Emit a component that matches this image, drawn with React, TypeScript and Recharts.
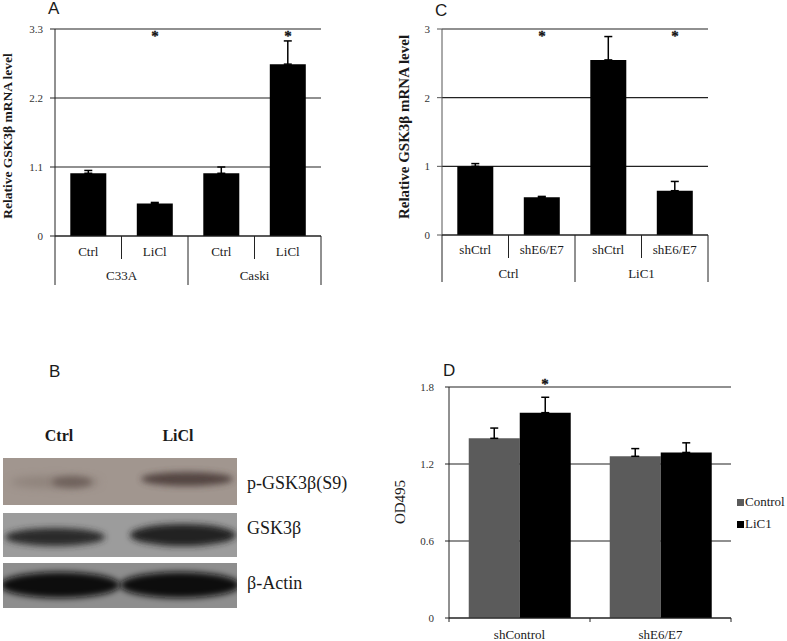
import React from 'react'
import { BarChart, Bar, XAxis, YAxis, CartesianGrid, ErrorBar, LabelList, Legend } from 'recharts'

const SERIF = '"Liberation Serif", "Times New Roman", serif'
const SANS = '"Liberation Sans", Arial, sans-serif'
const INK = '#1a1a1a'
const LINE = '#222'

// panel A – GSK3β mRNA in C33A / Caski
const aLabels = ['Ctrl', 'LiCl', 'Ctrl', 'LiCl']
const aGroups = ['C33A', 'Caski']
const aValues = [1.0, 0.52, 1.0, 2.74]
const aErrors = [0.045, 0.015, 0.1, 0.37]
const aSig = ['', '*', '', '*']
const aTicks = [0, 1.1, 2.2, 3.3]

// panel C – GSK3β mRNA, shCtrl / shE6/E7
const cLabels = ['shCtrl', 'shE6/E7', 'shCtrl', 'shE6/E7']
const cGroups = ['Ctrl', 'LiC1']
const cValues = [1.0, 0.55, 2.55, 0.645]
const cErrors = [0.04, 0.012, 0.34, 0.135]
const cSig = ['', '*', '', '*']
const cTicks = [0, 1, 2, 3]

// panel D – OD495
const dCategories = ['shControl', 'shE6/E7']
const dControl = [1.4, 1.26]
const dControlErr = [0.08, 0.06]
const dLiCl = [1.6, 1.29]
const dLiClErr = [0.12, 0.075]
const dSig = ['*', '']
const dTicks = [0, 0.6, 1.2, 1.8]

const aData = aLabels.map((label, i) => ({ id: `a${i}`, label, value: aValues[i], err: [0, aErrors[i]], sig: aSig[i] }))
const cData = cLabels.map((label, i) => ({ id: `c${i}`, label, value: cValues[i], err: [0, cErrors[i]], sig: cSig[i] }))
const dData = dCategories.map((name, i) => ({
  name,
  control: dControl[i],
  controlErr: [0, dControlErr[i]],
  licl: dLiCl[i],
  liclErr: [0, dLiClErr[i]],
  sig: dSig[i],
}))

function YTitle({ tx, ty, text, size, bold }: any) {
  return (
    <text
      x={tx}
      y={ty}
      transform={`rotate(-90 ${tx} ${ty})`}
      textAnchor="middle"
      fontFamily={SERIF}
      fontSize={size}
      fontWeight={bold ? 'bold' : 'normal'}
      fill={INK}
    >
      {text}
    </text>
  )
}

// two-row category axis with the table-like separators
function TwoLevelTick(props: any) {
  const { x, y, payload, labels, groups, rowY, groupY, shortDrop, longDrop, width, visibleTicksCount } = props
  const i = payload.index
  const half = payload.offset || width / visibleTicksCount / 2
  const endOfGroup = (i + 1) % 2 === 0
  return (
    <g>
      {i === 0 && <line x1={x - half} y1={y} x2={x - half} y2={y + longDrop} stroke={LINE} />}
      <line x1={x + half} y1={y} x2={x + half} y2={y + (endOfGroup ? longDrop : shortDrop)} stroke={LINE} />
      <text x={x} y={y + rowY} textAnchor="middle" fontFamily={SERIF} fontSize={13} fill={INK}>
        {labels[i]}
      </text>
      {i % 2 === 0 && (
        <text x={x + half} y={y + groupY} textAnchor="middle" fontFamily={SERIF} fontSize={13} fill={INK}>
          {groups[i / 2]}
        </text>
      )}
    </g>
  )
}

function SimpleTick(props: any) {
  const { x, y, payload, width, visibleTicksCount } = props
  const half = payload.offset || width / visibleTicksCount / 2
  return (
    <g>
      {payload.index === 0 && <line x1={x - half} y1={y} x2={x - half} y2={y + 4} stroke={LINE} />}
      <line x1={x + half} y1={y} x2={x + half} y2={y + 4} stroke={LINE} />
      <text x={x} y={y + 21} textAnchor="middle" fontFamily={SERIF} fontSize={13} fill={INK}>
        {payload.value}
      </text>
    </g>
  )
}

// asterisk drawn at a fixed value level above the bar
function sigLabel(values: number[], sigs: string[], level: number) {
  return (props: any) => {
    const i = props.index
    if (!sigs[i]) return null
    const { x, y, width, height } = props.viewBox
    const base = y + height
    const cy = base - (level * height) / values[i]
    return (
      <text
        x={Math.round(x + width / 2)}
        y={Math.round(cy + 7)}
        textAnchor="middle"
        fontFamily={SERIF}
        fontSize={15}
        fontWeight="bold"
        fill="#111"
        stroke="#111"
        strokeWidth={0.3}
      >
        *
      </text>
    )
  }
}

const yTick = { fontSize: 11, fontFamily: SERIF, fill: '#333' }

function PanelLetter({ x, y, children }: any) {
  return (
    <div style={{ position: 'absolute', left: x, top: y, fontFamily: SANS, fontSize: 17, lineHeight: '17px', color: INK }}>
      {children}
    </div>
  )
}

function PanelA() {
  return (
    <div style={{ position: 'absolute', left: 0, top: 0 }}>
      <BarChart width={340} height={300} data={aData} margin={{ top: 29, right: 19, bottom: 4, left: 0 }} barCategoryGap="23%">
        <CartesianGrid horizontal vertical={false} stroke={LINE} strokeWidth={1.2} />
        <YAxis
          width={55}
          domain={[0, 3.3]}
          ticks={aTicks}
          tick={yTick}
          tickSize={5}
          tickMargin={7}
          stroke={LINE}
          label={<YTitle tx={12} ty={136} text="Relative GSK3β mRNA level" size={13.5} bold />}
        />
        <XAxis
          dataKey="id"
          height={60}
          interval={0}
          tickLine={false}
          tickSize={0}
          tickMargin={0}
          stroke={LINE}
          tick={(p: any) => <TwoLevelTick {...p} labels={aLabels} groups={aGroups} rowY={20} groupY={44} shortDrop={23} longDrop={49} />}
        />
        <Bar dataKey="value" fill="#000" isAnimationActive={false}>
          <ErrorBar dataKey="err" width={4} strokeWidth={1.5} stroke="#000" direction="y" />
          <LabelList dataKey="sig" content={sigLabel(aValues, aSig, 3.22)} />
        </Bar>
      </BarChart>
    </div>
  )
}

function PanelC() {
  return (
    <div style={{ position: 'absolute', left: 390, top: 0 }}>
      <BarChart width={340} height={300} data={cData} margin={{ top: 29, right: 22, bottom: 5, left: 0 }} barCategoryGap="23%">
        <CartesianGrid horizontal vertical={false} stroke={LINE} strokeWidth={1.2} />
        <YAxis
          width={52}
          domain={[0, 3]}
          ticks={cTicks}
          tick={yTick}
          tickSize={5}
          tickMargin={7}
          stroke="#555"
          label={<YTitle tx={19} ty={127} text="Relative GSK3β mRNA level" size={15} bold />}
        />
        <XAxis
          dataKey="id"
          height={60}
          interval={0}
          tickLine={false}
          tickSize={0}
          tickMargin={0}
          stroke={LINE}
          tick={(p: any) => <TwoLevelTick {...p} labels={cLabels} groups={cGroups} rowY={19} groupY={43} shortDrop={23} longDrop={47} />}
        />
        <Bar dataKey="value" fill="#000" isAnimationActive={false}>
          <ErrorBar dataKey="err" width={4} strokeWidth={1.5} stroke="#000" direction="y" />
          <LabelList dataKey="sig" content={sigLabel(cValues, cSig, 2.92)} />
        </Bar>
      </BarChart>
    </div>
  )
}

function DLegend({ payload }: any) {
  return (
    <div style={{ fontFamily: SERIF, fontSize: 13, color: INK }}>
      {(payload || []).map((p: any) => (
        <div key={p.value} style={{ display: 'flex', alignItems: 'center', height: 22, lineHeight: '22px' }}>
          <span style={{ display: 'inline-block', width: 7, height: 7, background: p.color, marginRight: 1 }} />
          <span>{p.value}</span>
        </div>
      ))}
    </div>
  )
}

function PanelD() {
  return (
    <div style={{ position: 'absolute', left: 390, top: 330 }}>
      <BarChart width={397} height={311} data={dData} margin={{ top: 57, right: 56, bottom: 3, left: 0 }} barCategoryGap="14%" barGap={0}>
        <CartesianGrid horizontal vertical={false} stroke={LINE} strokeWidth={1.2} />
        <YAxis
          width={59}
          domain={[0, 1.8]}
          ticks={dTicks}
          tick={yTick}
          tickSize={4}
          tickMargin={11}
          stroke={LINE}
          label={<YTitle tx={15} ty={172} text="OD495" size={15} />}
        />
        <XAxis
          dataKey="name"
          height={20}
          interval={0}
          tickLine={false}
          tickSize={0}
          tickMargin={0}
          stroke={LINE}
          tick={(p: any) => <SimpleTick {...p} />}
        />
        <Legend
          layout="vertical"
          align="center"
          verticalAlign="middle"
          content={<DLegend />}
          wrapperStyle={{ position: 'absolute', left: 347, top: 161, width: 60, height: 50 }}
        />
        <Bar dataKey="control" name="Control" fill="#5b5b5b" isAnimationActive={false}>
          <ErrorBar dataKey="controlErr" width={4} strokeWidth={1.5} stroke="#000" direction="y" />
        </Bar>
        <Bar dataKey="licl" name="LiC1" fill="#000" isAnimationActive={false}>
          <ErrorBar dataKey="liclErr" width={4} strokeWidth={1.5} stroke="#000" direction="y" />
          <LabelList dataKey="sig" content={sigLabel(dLiCl, dSig, 1.837)} />
        </Bar>
      </BarChart>
    </div>
  )
}

// panel B is a western blot photo, drawn as blurred bands
function Band({ cx, cy, rx, ry, color, opacity = 1, blur }: any) {
  return <ellipse cx={cx} cy={cy} rx={rx} ry={ry} fill={color} opacity={opacity} filter={`url(#${blur})`} />
}

function PanelB() {
  const labelStyle = { fontFamily: SERIF, fontSize: 18, fill: INK }
  return (
    <svg width={390} height={311} style={{ position: 'absolute', left: 0, top: 330 }}>
      <defs>
        <filter id="blurS" x="-50%" y="-100%" width="200%" height="300%">
          <feGaussianBlur stdDeviation="3" />
        </filter>
        <filter id="blurL" x="-50%" y="-100%" width="200%" height="300%">
          <feGaussianBlur stdDeviation="4.5" />
        </filter>
        <clipPath id="blot1"><rect x={3} y={128} width={234} height={47} /></clipPath>
        <clipPath id="blot2"><rect x={3} y={183} width={234} height={44} /></clipPath>
        <clipPath id="blot3"><rect x={3} y={233} width={234} height={45} /></clipPath>
      </defs>
      <text x={49} y={47} fontFamily={SANS} fontSize={17} fill={INK}>B</text>
      <text x={59} y={111} textAnchor="middle" fontFamily={SERIF} fontSize={16} fontWeight="bold" fill={INK}>Ctrl</text>
      <text x={178} y={111} textAnchor="middle" fontFamily={SERIF} fontSize={16} fontWeight="bold" fill={INK}>LiCl</text>

      <g clipPath="url(#blot1)">
        <rect x={3} y={128} width={234} height={47} fill="#a1968f" />
        <Band cx={55} cy={152} rx={45} ry={6} color="#7d6f68" opacity={0.5} blur="blurL" />
        <Band cx={72} cy={152} rx={20} ry={6} color="#5a4c46" opacity={0.6} blur="blurS" />
        <Band cx={187} cy={149} rx={46} ry={7} color="#463934" opacity={0.85} blur="blurS" />
      </g>
      <g clipPath="url(#blot2)">
        <rect x={3} y={183} width={234} height={44} fill="#9c9c9c" />
        <Band cx={55} cy={207} rx={50} ry={9} color="#2a2a2a" blur="blurS" />
        <Band cx={183} cy={205} rx={53} ry={11} color="#242424" blur="blurS" />
      </g>
      <g clipPath="url(#blot3)">
        <rect x={3} y={233} width={234} height={45} fill="#8e8e8e" />
        <Band cx={60} cy={255} rx={60} ry={13} color="#0e0e0e" blur="blurS" />
        <Band cx={180} cy={255} rx={60} ry={13} color="#0e0e0e" blur="blurS" />
      </g>

      <text x={247} y={159} {...labelStyle}>p-GSK3β(S9)</text>
      <text x={247} y={204} {...labelStyle}>GSK3β</text>
      <text x={247} y={259} {...labelStyle}>β-Actin</text>
    </svg>
  )
}

export default function App() {
  return (
    <div style={{ position: 'absolute', left: 0, top: 0, width: 787, height: 641, background: '#fff', overflow: 'hidden' }}>
      <PanelLetter x={48} y={0}>A</PanelLetter>
      <PanelLetter x={435} y={2}>C</PanelLetter>
      <PanelLetter x={443} y={362}>D</PanelLetter>
      <PanelA />
      <PanelC />
      <PanelB />
      <PanelD />
    </div>
  )
}
